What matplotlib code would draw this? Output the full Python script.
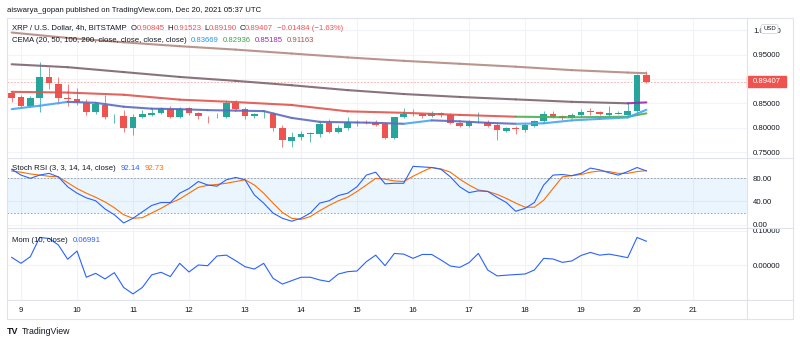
import matplotlib
matplotlib.use("Agg")
import matplotlib.pyplot as plt
from matplotlib.patches import Rectangle, FancyBboxPatch
from matplotlib.transforms import blended_transform_factory
import numpy as np

plt.rcParams['font.family'] = ['Liberation Sans', 'DejaVu Sans']

W, H = 800, 343

# 4h candles, Dec 8 20:00 -> Dec 20 04:00 (bar index 0..68)
opens = [0.8718, 0.8636, 0.8452, 0.8615, 0.9039, 0.8903, 0.8602, 0.8588, 0.8513, 0.8329,
         0.8466, 0.8233, 0.8247, 0.7987, 0.8212, 0.8260, 0.8308, 0.8383, 0.8227, 0.8397,
         0.8295, 0.8240, 0.8247, 0.8212, 0.8500, 0.8384, 0.8247, 0.8274, 0.8288, 0.7987,
         0.7735, 0.7817, 0.7878, 0.7871, 0.8103, 0.7919, 0.7987, 0.8103, 0.8117, 0.8103,
         0.8076, 0.7782, 0.8212, 0.8274, 0.8274, 0.8240, 0.8301, 0.8260, 0.8090, 0.8042,
         0.8110, 0.8124, 0.8055, 0.7933, 0.8001, 0.7953, 0.8042, 0.8137, 0.8288, 0.8240,
         0.8206, 0.8260, 0.8336, 0.8329, 0.8260, 0.8288, 0.8260, 0.8342, 0.90845]
highs = [0.8752, 0.8671, 0.8657, 0.9340, 0.9250, 0.9032, 0.8889, 0.8820, 0.8581, 0.8534,
         0.8671, 0.8274, 0.8363, 0.8274, 0.8363, 0.8411, 0.8418, 0.8452, 0.8432, 0.8420,
         0.8315, 0.8247, 0.8295, 0.8568, 0.8568, 0.8432, 0.8295, 0.8363, 0.8329, 0.8055,
         0.7919, 0.7926, 0.7919, 0.8124, 0.8172, 0.8055, 0.8227, 0.8165, 0.8165, 0.8165,
         0.8124, 0.8227, 0.8411, 0.8384, 0.8295, 0.8343, 0.8329, 0.8295, 0.8124, 0.8151,
         0.8315, 0.8158, 0.8090, 0.8021, 0.8042, 0.8090, 0.8158, 0.8343, 0.8343, 0.8260,
         0.8308, 0.8384, 0.8397, 0.8343, 0.8452, 0.8343, 0.8500, 0.9101, 0.91523]
lows = [0.8534, 0.8418, 0.8432, 0.8329, 0.8786, 0.8479, 0.8452, 0.8466, 0.8260, 0.8274,
        0.8172, 0.8090, 0.7919, 0.7851, 0.8192, 0.8247, 0.8288, 0.8192, 0.8192, 0.8260,
        0.8179, 0.8090, 0.8192, 0.8192, 0.8363, 0.8179, 0.8206, 0.8206, 0.7933, 0.7612,
        0.7612, 0.7748, 0.7714, 0.7817, 0.7885, 0.7885, 0.7953, 0.8028, 0.8069, 0.8028,
        0.7769, 0.7769, 0.8192, 0.8247, 0.8192, 0.8212, 0.8227, 0.8076, 0.8021, 0.8021,
        0.8090, 0.8021, 0.7748, 0.7906, 0.7864, 0.7919, 0.8021, 0.8090, 0.8192, 0.8158,
        0.8192, 0.8212, 0.8260, 0.8260, 0.8240, 0.8274, 0.8240, 0.8260, 0.89190]
closes = [0.8615, 0.8452, 0.8615, 0.9039, 0.8910, 0.8602, 0.8581, 0.8534, 0.8329, 0.8486,
          0.8227, 0.8247, 0.7987, 0.8212, 0.8274, 0.8295, 0.8397, 0.8227, 0.8377, 0.8295,
          0.8247, 0.8233, 0.8240, 0.8513, 0.8384, 0.8240, 0.8274, 0.8288, 0.8001, 0.7748,
          0.7803, 0.7871, 0.7892, 0.8076, 0.7919, 0.7987, 0.8110, 0.8124, 0.8103, 0.8055,
          0.7782, 0.8212, 0.8274, 0.8288, 0.8240, 0.8308, 0.8260, 0.8090, 0.8042, 0.8124,
          0.8124, 0.8042, 0.7953, 0.7987, 0.7974, 0.8055, 0.8137, 0.8288, 0.8227, 0.8206,
          0.8260, 0.8329, 0.8322, 0.8274, 0.8295, 0.8301, 0.8349, 0.90845, 0.89407]

# CEMA lines at sample bars
ema_slow_idx = [0, 6, 12, 18, 24, 30, 36, 42, 48, 54, 60, 66, 68]
ema200 = [0.995, 0.984, 0.975, 0.967, 0.960, 0.952, 0.944, 0.937, 0.931, 0.925, 0.918, 0.913, 0.91163]
ema100 = [0.930, 0.924, 0.914, 0.904, 0.896, 0.887, 0.877, 0.869, 0.863, 0.858, 0.853, 0.850, 0.85185]
ema50 = [0.8735, 0.872, 0.8675, 0.8575, 0.8525, 0.8465, 0.8335, 0.8305, 0.8262, 0.8225, 0.8213, 0.8225, 0.82936]
ema20_idx = [0, 3, 6, 9, 12, 15, 18, 21, 24, 27, 30, 33, 36, 39, 42, 45, 48, 51, 54, 57, 60, 63, 66, 68]
ema20 = [0.838, 0.845, 0.853, 0.851, 0.843, 0.839, 0.838, 0.836, 0.835, 0.834, 0.820, 0.812,
         0.811, 0.810, 0.808, 0.815, 0.813, 0.810, 0.808, 0.809, 0.815, 0.818, 0.821, 0.83669]

stoch_k = [95, 85, 79.5, 85, 88, 82, 65, 54, 46, 41, 27, 17, 3, 11, 22, 33, 38, 38, 54, 62,
           74, 68, 66, 77, 81, 77, 51, 37, 20, 11, 6, 11, 20, 37, 41, 50, 54, 65, 85, 90,
           70, 71, 71, 100, 99, 98, 95, 82, 65, 55, 58, 57, 47, 38, 23, 28, 38, 68, 85, 86,
           84, 88, 97, 94, 89, 85, 91, 98, 92.14]
stoch_d = [92, 90, 87, 85, 83, 82, 72, 62, 54, 47, 39, 29, 17, 11, 12, 20, 28, 37, 44, 54,
           64, 67.5, 69, 71, 74, 77, 68, 54, 37, 21, 11, 9, 14, 24, 33, 41, 47, 57, 68, 79.5,
           78, 75, 74, 83, 91, 98, 95.5, 90, 78, 68, 59.5, 57, 52, 45, 37, 30, 30, 42, 62, 82,
           84, 86, 90, 92, 91, 88, 88, 91, 92.73]
mom = [0.0225, 0.005, 0.0245, 0.081, 0.078, 0.059, 0.017, 0.041, -0.036, -0.0245,
       -0.041, -0.0225, -0.066, -0.085, -0.066, -0.029, -0.0215, -0.034, 0.005, -0.0205,
       0.0, -0.002, 0.0265, 0.029, 0.0127, -0.005, -0.012, 0.005, -0.039, -0.056,
       -0.046, -0.036, -0.036, -0.044, -0.049, -0.0265, -0.0196, -0.0176, 0.0098, 0.029,
       -0.002, 0.034, 0.032, 0.0196, 0.031, 0.031, 0.0147, -0.003, -0.007, 0.007,
       0.034, -0.0147, -0.032, -0.030, -0.028, -0.0265, -0.0147, 0.0196, 0.0176, 0.0078,
       0.0118, 0.028, 0.037, 0.029, 0.032, 0.027, 0.0216, 0.081, 0.06991]

days = [9, 10, 11, 12, 13, 14, 15, 16, 17, 18, 19, 20, 21]
day_idx = [1 + 6 * (d - 9) for d in days]

GREEN = '#26a69a'
RED = '#ef5350'
TXT = '#131722'
GRID = '#f0f3fa'
BORDER = '#e0e3eb'
FS = 5.6
XLIM = (-0.5, 78.78)

fig = plt.figure(figsize=(W / 100, H / 100), dpi=100)
fig.patch.set_facecolor('white')


def px_axes(x0, y0, x1, y1):
    return fig.add_axes([x0 / W, 1 - y1 / H, (x1 - x0) / W, (y1 - y0) / H])


def style(ax, yticks, labels):
    for s in ax.spines.values():
        s.set_visible(False)
    ax.set_xlim(*XLIM)
    ax.set_xticks(day_idx)
    ax.set_yticks(yticks)
    ax.set_yticklabels(labels)
    ax.yaxis.tick_right()
    ax.tick_params(length=0, labelsize=FS, labelcolor=TXT, pad=4.3)
    ax.grid(True, color=GRID, lw=0.8)
    ax.set_axisbelow(True)


# ---- main price pane
ax = px_axes(7, 18, 747, 158)
style(ax, [0.75, 0.80, 0.85, 0.90, 0.95, 1.00],
      ['0.75000', '0.80000', '0.85000', '', '0.95000', '1.00000'])
ax.set_ylim(0.7379, 1.0248)
ax.set_xticklabels([])

o, h, l, c = map(np.array, (opens, highs, lows, closes))
idx = np.arange(len(c))
cols = np.where(c >= o, GREEN, RED)
ax.vlines(idx, l, h, colors=cols, lw=0.7, alpha=0.75, zorder=3)
ax.bar(idx, np.maximum(np.abs(c - o), 0.0009), bottom=np.minimum(o, c), width=0.72,
       color=cols, lw=0, zorder=4)


def seg_line(xs, ys, color_fn, lw=1.5):
    for k in range(len(xs) - 1):
        ax.plot(xs[k:k + 2], ys[k:k + 2], color=color_fn(k), lw=lw, alpha=0.9,
                solid_capstyle='round', zorder=5)


seg_line(ema_slow_idx, ema200, lambda k: '#b38a82')
seg_line(ema_slow_idx, ema100, lambda k: '#9c27b0' if ema100[k + 1] > ema100[k] else '#7d6470')
seg_line(ema_slow_idx, ema50,
         lambda k: '#4caf50' if closes[ema_slow_idx[k + 1]] > ema50[k + 1] else '#e0544e')
seg_line(ema20_idx, ema20, lambda k: '#42a5f5' if ema20[k + 1] >= ema20[k] else '#5c6bc0')

last = closes[-1]
ax.axhline(last, color=RED, lw=0.6, ls=(0, (2, 2)), alpha=0.5, zorder=2)
bt = blended_transform_factory(ax.transAxes, ax.transData)
ax.add_patch(Rectangle((1.0, last - 0.0113), 39 / 740, 0.0226, transform=bt,
                       color=RED, clip_on=False, zorder=10))
ax.text(1.0 + 6 / 740, last, f'{last:.5f}', transform=bt, color='white', fontsize=FS,
        va='center', ha='left', clip_on=False, zorder=11)

# ---- stoch RSI pane
ax2 = px_axes(7, 158, 747, 228)
style(ax2, [0, 40, 80], ['0.00', '40.00', '80.00'])
ax2.set_ylim(-5.66, 114.3)
ax2.set_xticklabels([])
ax2.axhspan(20, 80, color='#2196f3', alpha=0.09, lw=0)
for lev in (20, 80):
    ax2.axhline(lev, color='#9598a1', lw=0.6, ls=(0, (2, 2)))
ax2.plot(idx, stoch_d, color='#ff6d00', lw=0.8)
ax2.plot(idx, stoch_k, color='#2962ff', lw=0.8)

# ---- momentum pane
ax3 = px_axes(7, 228, 747, 300)
style(ax3, [0.0, 0.1], ['0.00000', '0.10000'])
ax3.set_ylim(-0.1029, 0.1088)
ax3.set_xticklabels([str(d) for d in days])
ax3.tick_params(axis='x', pad=5)
ax3.plot(idx, mom, color='#2962ff', lw=0.8)

# ---- frame, header and legends
ov = fig.add_axes([0, 0, 1, 1])
ov.set_xlim(0, W)
ov.set_ylim(H, 0)
ov.axis('off')
ov.patch.set_alpha(0)
ov.plot([7, 793, 793, 7, 7], [18, 18, 319, 319, 18], color=BORDER, lw=0.8)
ov.plot([747, 747], [18, 319], color=BORDER, lw=0.8)
for yy in (158, 228, 300):
    ov.plot([7, 793], [yy, yy], color=BORDER, lw=0.8)


def text_row(x, y, parts, size=FS):
    t = None
    for s, color, gap in parts:
        if t is None:
            t = ov.text(x, y, s, color=color, fontsize=size, va='center', ha='left')
        else:
            t = ov.annotate(s, xy=(1, 0.5), xycoords=t, xytext=(gap, 0),
                            textcoords='offset pixels', color=color, fontsize=size,
                            va='center', ha='left')
    return t


text_row(7, 10, [('aiswarya_gopan published on TradingView.com, Dec 20, 2021 05:37 UTC', TXT, 0)])
text_row(12, 28, [('XRP / U.S. Dollar, 4h, BITSTAMP', TXT, 0),
                  ('O', TXT, 4), ('0.90845', RED, 0),
                  ('H', TXT, 3), ('0.91523', RED, 0),
                  ('L', TXT, 3), ('0.89190', RED, 0),
                  ('C', TXT, 3), ('0.89407', RED, 0),
                  ('\u22120.01484 (\u22121.63%)', RED, 4)])
text_row(12, 40, [('CEMA (20, 50, 100, 200, close, close, close, close)', TXT, 0),
                  ('0.83669', '#2196f3', 4), ('0.82936', '#43a047', 4),
                  ('0.85185', '#9c27b0', 4), ('0.91163', '#a1574f', 4)])
text_row(12, 168, [('Stoch RSI (3, 3, 14, 14, close)', TXT, 0),
                   ('92.14', '#2962ff', 5), ('92.73', '#ff6d00', 4)])
text_row(12, 241, [('Mom (10, close)', TXT, 0), ('0.06991', '#2962ff', 5)])

# currency tag over the top price label
ov.add_patch(FancyBboxPatch((761, 24.5), 17, 9, boxstyle='round,pad=0,rounding_size=2',
                            fc='white', ec='#d1d4dc', lw=0.6, zorder=5))
ov.text(769.5, 29, 'USD', fontsize=4.3, color=TXT, ha='center', va='center', zorder=6)

# watermark
ov.text(7, 331, 'TV', fontsize=6.5, fontweight='heavy', color=TXT, va='center', ha='left')
ov.text(22, 331, 'TradingView', fontsize=6.3, color=TXT, va='center', ha='left')

fig.savefig('out.png', dpi=100)
